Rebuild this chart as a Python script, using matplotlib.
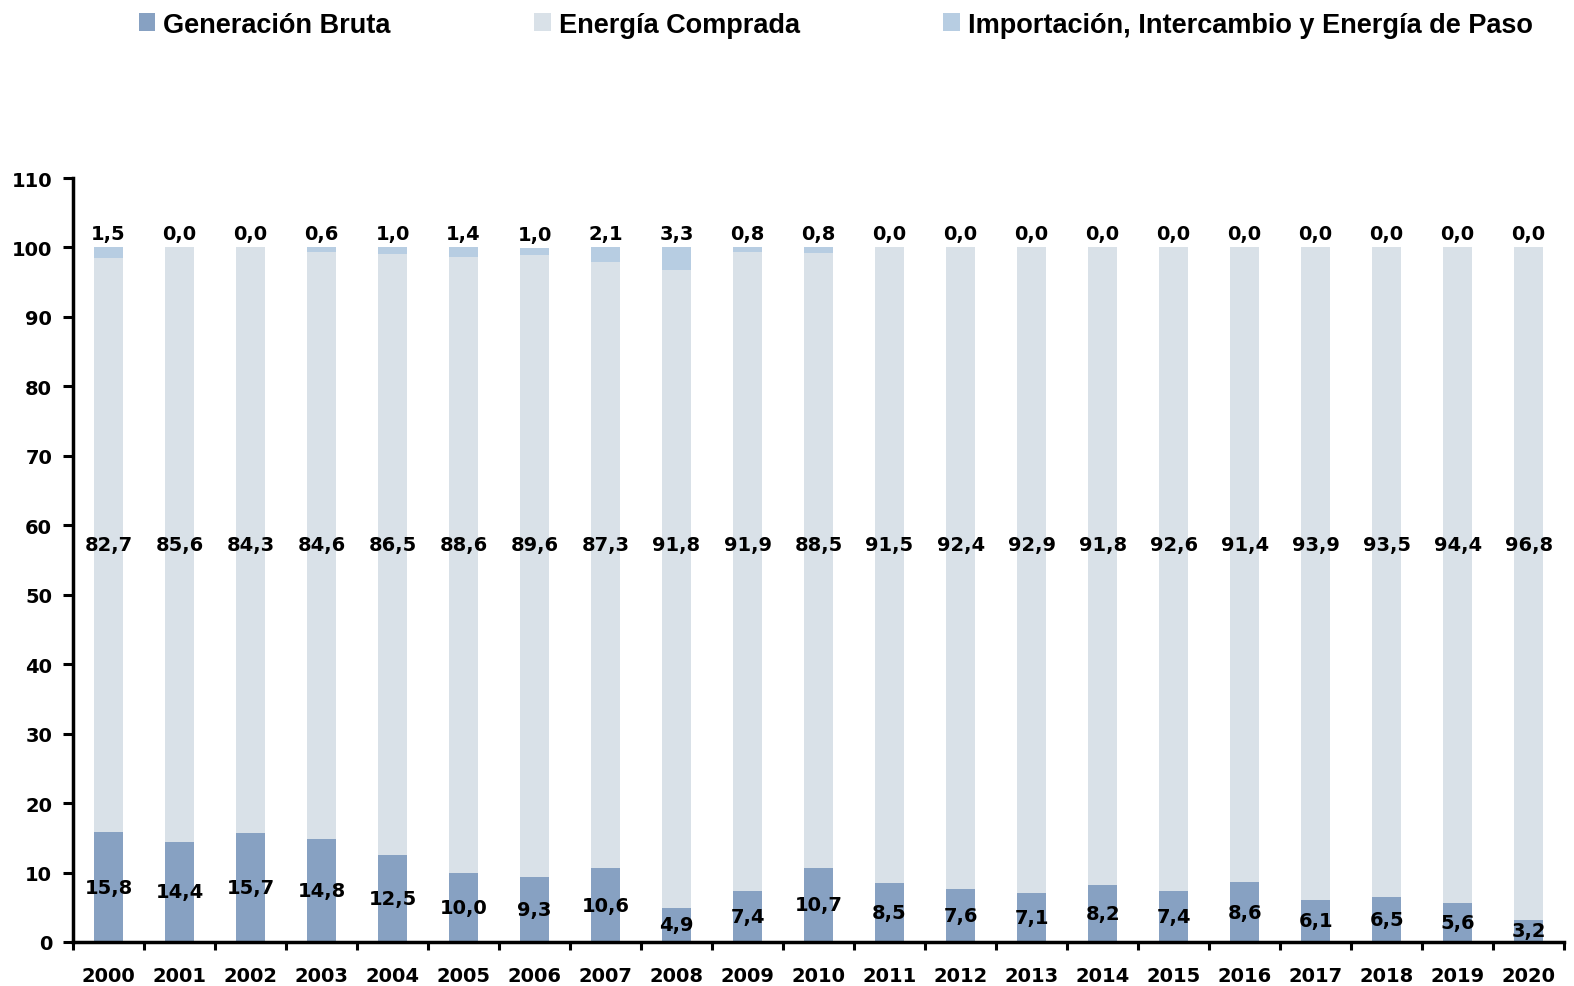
import numpy as np
import matplotlib.pyplot as plt

years = [str(y) for y in range(2000, 2021)]
generacion = [15.8, 14.4, 15.7, 14.8, 12.5, 10.0, 9.3, 10.6, 4.9, 7.4, 10.7,
              8.5, 7.6, 7.1, 8.2, 7.4, 8.6, 6.1, 6.5, 5.6, 3.2]
comprada = [82.7, 85.6, 84.3, 84.6, 86.5, 88.6, 89.6, 87.3, 91.8, 91.9, 88.5,
            91.5, 92.4, 92.9, 91.8, 92.6, 91.4, 93.9, 93.5, 94.4, 96.8]
importacion = [1.5, 0.0, 0.0, 0.6, 1.0, 1.4, 1.0, 2.1, 3.3, 0.8, 0.8,
               0.0, 0.0, 0.0, 0.0, 0.0, 0.0, 0.0, 0.0, 0.0, 0.0]

c_gen = '#87a1c2'
c_comp = '#d9e1e8'
c_imp = '#b7cde2'

def fmt(v):
    return f'{v:.1f}'.replace('.', ',')

fig = plt.figure(figsize=(15.74, 9.87), dpi=100)
ax = fig.add_axes([0.0464, 0.0446, 0.9473, 0.774])

x = np.arange(len(years))
gen = np.array(generacion)
comp = np.array(comprada)
imp = np.array(importacion)
w = 0.41
fs = 14

b1 = ax.bar(x, gen, w, color=c_gen, label='Generación Bruta')
b2 = ax.bar(x, comp, w, bottom=gen, color=c_comp, label='Energía Comprada')
b3 = ax.bar(x, imp, w, bottom=gen + comp, color=c_imp,
            label='Importación, Intercambio y Energía de Paso')

# the middle labels sit on one row in the original
comp_label_y = 57.3
for i in x:
    ax.text(i, gen[i] / 2, fmt(gen[i]), ha='center', va='center',
            fontsize=fs, fontweight='bold', family='DejaVu Sans')
    ax.text(i, comp_label_y, fmt(comp[i]), ha='center', va='center',
            fontsize=fs, fontweight='bold', family='DejaVu Sans')
    ax.annotate(fmt(imp[i]), (i, gen[i] + comp[i] + imp[i]), xytext=(0, 3),
                textcoords='offset points', ha='center', va='bottom',
                fontsize=fs, fontweight='bold', family='DejaVu Sans')

ax.set_xlim(-0.5, len(years) - 0.5)
ax.set_ylim(0, 110)
ax.set_yticks(range(0, 111, 10))
ax.set_xticks(np.arange(-0.5, len(years), 1.0))
ax.set_xticklabels([])
ax.set_xticks(x, minor=True)
ax.set_xticklabels(years, minor=True)
ax.tick_params(axis='x', which='major', length=6, width=2.2, direction='out')
ax.tick_params(axis='x', which='minor', length=0, pad=17)
ax.tick_params(axis='y', length=7, width=2.2, direction='out', pad=8)
for lab in ax.get_xticklabels(minor=True) + ax.get_yticklabels():
    lab.set_fontsize(fs)
    lab.set_fontweight('bold')
    lab.set_family('DejaVu Sans')

for s in ['top', 'right']:
    ax.spines[s].set_visible(False)
for s in ['left', 'bottom']:
    ax.spines[s].set_linewidth(2.5)

fig.legend(handles=[b1, b2, b3], loc='upper center', bbox_to_anchor=(0.531, 1.012),
           ncol=3, frameon=False, prop={'family': 'Liberation Sans', 'weight': 'bold', 'size': 19.5},
           handlelength=0.6, handleheight=0.6, handletextpad=0.3, columnspacing=5.3)

fig.savefig('out.png', dpi=100)
